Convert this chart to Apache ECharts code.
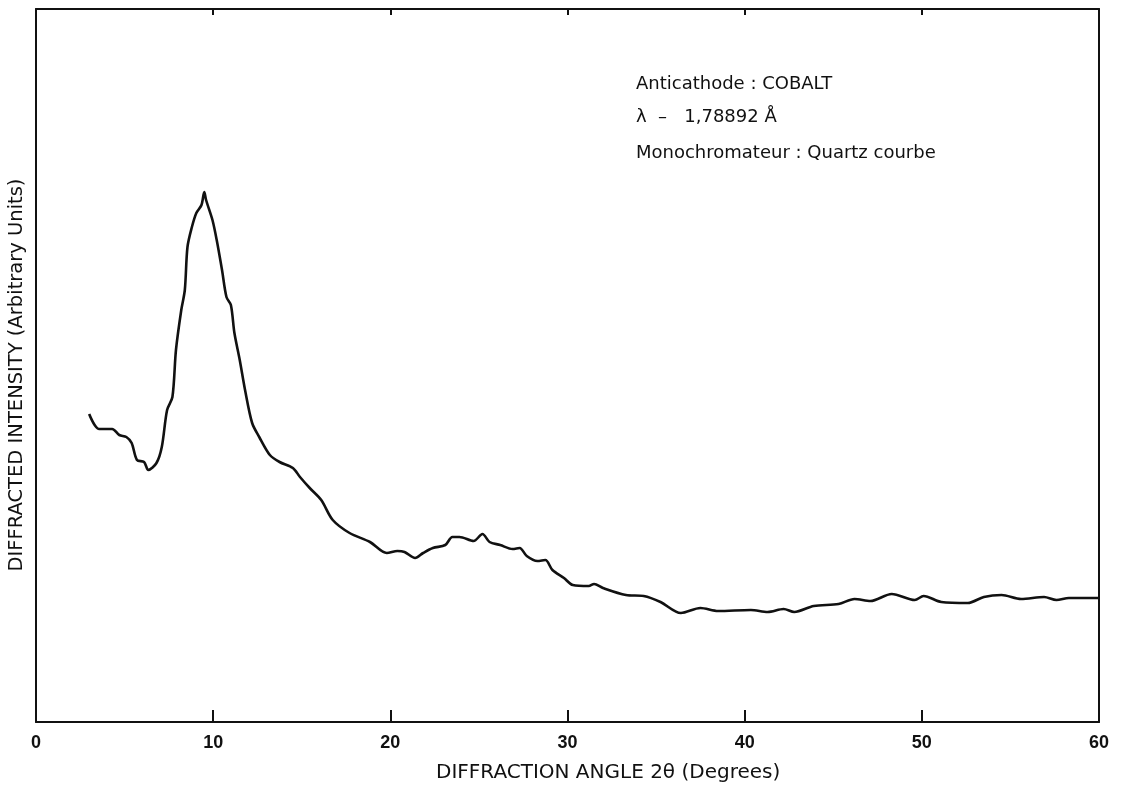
<!DOCTYPE html>
<html>
<head>
<meta charset="utf-8">
<script src="https://cdn.jsdelivr.net/npm/echarts@6/dist/echarts.min.js"></script>
<style>html,body{margin:0;padding:0;background:#fff}#chart{width:1122px;height:788px}</style>
</head>
<body>
<div id="chart"></div>
<script>
// Diffraction angle 2θ (degrees)
const angles = [3.0, 3.57, 4.3, 4.7, 5.1, 5.4, 5.7, 6.1, 6.34, 6.8, 7.1, 7.4, 7.7, 7.9, 8.2, 8.4, 8.55, 8.8, 9.05, 9.34, 9.5, 9.6, 9.96, 10.2, 10.5, 10.75, 11.0, 11.2, 11.5, 11.8, 12.2, 12.6, 13.2, 13.75, 14.5, 14.9, 15.45, 16.1, 16.75, 17.7, 18.85, 19.8, 20.4, 20.8, 21.4, 21.85, 22.4, 23.1, 23.5, 23.9, 24.7, 25.2, 25.6, 26.2, 26.9, 27.3, 27.7, 28.3, 28.75, 29.15, 29.8, 30.3, 31.2, 31.5, 32.0, 33.3, 34.3, 35.25, 36.4, 37.5, 38.5, 40.35, 41.3, 42.2, 42.8, 43.9, 45.3, 46.2, 47.1, 48.3, 49.6, 50.1, 51.1, 52.6, 53.5, 54.5, 55.6, 56.9, 57.6, 58.3, 60.0];
// Diffracted intensity (arbitrary units)
const intensity = [308, 293, 293, 287, 285, 279, 262, 260, 252, 259, 275, 312, 325, 372, 412, 432, 475, 495, 509, 517, 530, 522, 502, 482, 452, 425, 417, 389, 362, 332, 299, 285, 267, 260, 254, 245, 234, 222, 202, 189, 180, 169, 171, 170, 164, 169, 174, 177, 185, 185, 181, 188, 180, 177, 173, 174, 166, 161, 162, 152, 144, 137, 136, 138, 134, 127, 126, 120, 109, 114, 111, 112, 110, 113, 110, 116, 118, 123, 121, 128, 122, 126, 120, 119, 125, 127, 123, 125, 122, 124, 124];
const angleTicks = ['0', '10', '20', '30', '40', '50', '60'];
const infoLines = ['Anticathode : COBALT', 'λ  –   1,78892 Å', 'Monochromateur : Quartz courbe'];

const font = '"DejaVu Sans", "Liberation Sans", sans-serif';
const tickFont = '"Liberation Sans", Arial, sans-serif';
const ink = '#111';

const frameLine = {show: true, onZero: false, lineStyle: {color: ink, width: 2}};

const chart = echarts.init(document.getElementById('chart'), null, {renderer: 'canvas'});
chart.setOption({
  animation: false,
  backgroundColor: '#fff',
  grid: {left: 36, right: 23, top: 9, bottom: 66},
  xAxis: [{
    type: 'value', min: 0, max: 60, interval: 10, position: 'bottom',
    axisLine: frameLine,
    axisTick: {show: true, inside: true, length: 12, lineStyle: {color: ink, width: 2}},
    axisLabel: {
      color: ink, fontFamily: tickFont, fontSize: 18, fontWeight: 'bold', margin: 12,
      formatter: v => angleTicks[Math.round(v / 10)]
    },
    splitLine: {show: false}
  }, {
    type: 'value', min: 0, max: 60, interval: 10, position: 'top',
    axisLine: frameLine,
    axisTick: {show: true, inside: true, length: 6, lineStyle: {color: ink, width: 2}},
    axisLabel: {show: false},
    splitLine: {show: false}
  }],
  yAxis: [{
    type: 'value', min: 0, max: 713, position: 'left',
    axisLine: frameLine,
    axisTick: {show: false}, axisLabel: {show: false}, splitLine: {show: false}
  }, {
    type: 'value', min: 0, max: 713, position: 'right',
    axisLine: frameLine,
    axisTick: {show: false}, axisLabel: {show: false}, splitLine: {show: false}
  }],
  series: [{
    type: 'line',
    data: angles.map((a, i) => [a, intensity[i]]),
    smooth: 0.3,
    symbol: 'none',
    lineStyle: {color: ink, width: 2.6}
  }],
  graphic: [
    {
      type: 'text', left: 436, top: 763,
      style: {text: 'DIFFRACTION ANGLE 2θ (Degrees)', fill: ink, font: '20px ' + font}
    },
    {
      type: 'text', x: 7, y: 375, rotation: Math.PI / 2,
      style: {text: 'DIFFRACTED INTENSITY (Arbitrary Units)', fill: ink, font: '19.5px ' + font,
        align: 'center', verticalAlign: 'top'}
    },
    ...infoLines.map((t, i) => ({
      type: 'text', left: 636, top: [75, 108, 144][i],
      style: {text: t, fill: ink, font: '18px ' + font}
    }))
  ]
});
</script>
</body>
</html>
